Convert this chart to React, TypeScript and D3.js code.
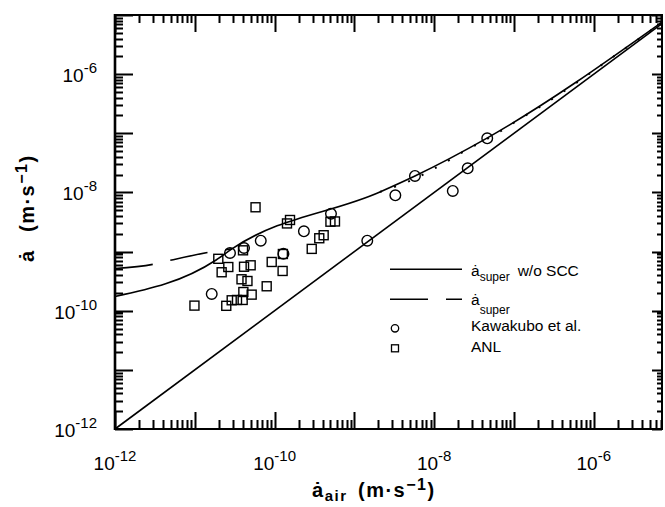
import React from "react";
import * as d3 from "d3";

// ---- data ----
const xDomain = [1e-12, 7.16e-6];
const yDomain = [1e-12, 1e-5];

const labelDecades = [1e-12, 1e-10, 1e-8, 1e-6];
const labelExponents = ["-12", "-10", "-8", "-6"];
const tickDecades = [-12, -11, -10, -9, -8, -7, -6, -5];
const tickMultipliers = [1, 2, 3, 4, 5, 6, 7, 8, 9];

// a_super w/o SCC (solid)
const noSccX = [1e-12, 1.85e-11, 2.92e-11, 2.09e-9, 5.74e-9, 4.59e-8, 7.16e-6];
const noSccY = [1.74e-10, 7.2e-10, 1.11e-9, 1.02e-8, 1.9e-8, 8.3e-8, 7.6e-6];

// a_super (long dash at low rates, merges with the solid curve, then dotted at high rates)
const superLowX = [1e-12, 3.02e-12, 5.14e-12, 1.55e-11, 2.92e-11];
const superLowY = [5.18e-10, 6.1e-10, 7.2e-10, 9.8e-10, 1.11e-9];
const superHighX = [2.09e-9, 4.7e-9, 1.15e-8, 2.3e-8, 6.12e-8, 1.3e-7, 2.35e-7, 6.1e-7, 1.29e-6, 7.16e-6];
const superHighY = [1.02e-8, 1.52e-8, 2.8e-8, 4.83e-8, 1.0e-7, 1.89e-7, 3.06e-7, 7.2e-7, 1.47e-6, 7.4e-6];

// a = a_air reference line
const diagX = [1e-12, 7.16e-6];
const diagY = [1e-12, 7.16e-6];

// Kawakubo et al. (circles)
const kawakuboX = [1.63e-11, 2.76e-11, 4.14e-11, 6.71e-11, 1.29e-10, 2.33e-10, 5.09e-10, 1.45e-9, 3.26e-9, 5.74e-9, 1.71e-8, 2.63e-8, 4.62e-8];
const kawakuboY = [1.92e-10, 9.46e-10, 1.15e-9, 1.53e-9, 9.16e-10, 2.2e-9, 4.37e-9, 1.53e-9, 8.95e-9, 1.9e-8, 1.06e-8, 2.56e-8, 8.22e-8];

// ANL (squares)
const anlX = [9.9e-12, 1.97e-11, 2.17e-11, 2.63e-11, 2.48e-11, 2.9e-11, 3.38e-11, 3.98e-11, 4.06e-11, 5.16e-11, 3.85e-11, 4.57e-11, 4.14e-11, 5.01e-11, 4.02e-11, 5.77e-11, 7.96e-11, 9.2e-11, 1.26e-10, 1.27e-10, 1.43e-10, 1.56e-10, 2.92e-10, 3.63e-10, 4.12e-10, 5.01e-10, 5.71e-10];
const anlY = [1.22e-10, 7.55e-10, 4.47e-10, 5.48e-10, 1.21e-10, 1.5e-10, 1.52e-10, 1.52e-10, 2.07e-10, 1.87e-10, 3.4e-10, 3.18e-10, 5.54e-10, 5.86e-10, 1.05e-9, 5.61e-9, 2.59e-10, 6.67e-10, 4.7e-10, 9.1e-10, 2.99e-9, 3.42e-9, 1.11e-9, 1.68e-9, 1.89e-9, 3.2e-9, 3.23e-9];

const W = 665;
const H = 507;
const L = 115, R = 662, T = 15, B = 429;
const FONT = "'Liberation Sans', Arial, Helvetica, sans-serif";

export default function App() {
  const x = d3.scaleLog().domain(xDomain).range([L, R]);
  const y = d3.scaleLog().domain(yDomain).range([B, T]);

  const curve = (xs: number[], ys: number[]) =>
    d3
      .line<number>()
      .x((_, i) => x(xs[i]))
      .y((_, i) => y(ys[i]))
      .curve(d3.curveMonotoneX)(xs) as string;

  const ticks: { v: number; major: boolean }[] = [];
  tickDecades.forEach((e) =>
    tickMultipliers.forEach((k) => ticks.push({ v: k * Math.pow(10, e), major: k === 1 }))
  );
  const xt = ticks.filter((t) => t.v >= xDomain[0] * 0.999 && t.v <= xDomain[1] * 1.001);
  const yt = ticks.filter((t) => t.v >= yDomain[0] * 0.999 && t.v <= yDomain[1] * 1.001);

  let tickPath = "";
  xt.forEach((t) => {
    const px = Math.round(x(t.v)) + 0.5;
    tickPath += `M${px},${B}V${B - (t.major ? 17 : 9)}`;
    tickPath += `M${px},${T}V${T + (t.major ? 17 : 8)}`;
  });
  yt.forEach((t) => {
    const py = Math.round(y(t.v)) + 0.5;
    tickPath += `M${L},${py}H${L + (t.major ? 18 : 8)}`;
    tickPath += `M${R},${py}H${R - (t.major ? 10 : 5)}`;
  });

  return (
    <svg width={W} height={H} style={{ position: "fixed", left: 0, top: 0 }}>
      <rect x={0} y={0} width={W} height={H} fill="#fff" />

      {/* frame */}
      <rect x={L} y={T} width={R - L} height={B - T} fill="none" stroke="#000" strokeWidth={2} />
      <line x1={L} x2={L} y1={T - 1} y2={B + 1} stroke="#000" strokeWidth={2.6} />

      {/* lines */}
      <path d={curve(diagX, diagY)} fill="none" stroke="#000" strokeWidth={1.6} />
      <path d={curve(noSccX, noSccY)} fill="none" stroke="#000" strokeWidth={1.6} />
      <path d={curve(superLowX, superLowY)} fill="none" stroke="#000" strokeWidth={1.6} strokeDasharray="38,18" />
      <path d={curve(superHighX, superHighY)} fill="none" stroke="#000" strokeWidth={2} strokeDasharray="2,13" />

      {/* markers */}
      {anlX.map((v, i) => (
        <rect key={"a" + i} x={x(v) - 4.5} y={y(anlY[i]) - 4.5} width={9} height={9} fill="none" stroke="#000" strokeWidth={1.4} />
      ))}
      {kawakuboX.map((v, i) => (
        <circle key={"k" + i} cx={x(v)} cy={y(kawakuboY[i])} r={5.3} fill="none" stroke="#000" strokeWidth={1.4} />
      ))}

      {/* tick labels */}
      <g fontFamily={FONT} fill="#000">
        {labelDecades.map((v, i) => (
          <text key={"xl" + i} x={x(v)} y={470} textAnchor="middle" fontSize={19}>
            10<tspan fontSize={15} dy={-9}>{labelExponents[i]}</tspan>
          </text>
        ))}
        {labelDecades.map((v, i) => (
          <text key={"yl" + i} x={97} y={y(v) + 8} textAnchor="end" fontSize={19}>
            10<tspan fontSize={15} dy={-9}>{labelExponents[i]}</tspan>
          </text>
        ))}

        {/* axis titles */}
        <text x={312} y={497} fontSize={20} fontWeight="bold" letterSpacing={1.5}>
          ȧ<tspan fontSize={15} dy={4}>air</tspan>
          <tspan dy={-4} x={358}>(m·s</tspan>
          <tspan fontSize={16} dy={-7}>−1</tspan>
          <tspan dy={7}>)</tspan>
        </text>
        <text transform="translate(34,262) rotate(-90)" fontSize={20} fontWeight="bold" letterSpacing={1.5}>
          ȧ<tspan x={30}>(m·s</tspan>
          <tspan fontSize={16} dy={-7}>−1</tspan>
          <tspan dy={7}>)</tspan>
        </text>

        {/* legend */}
        <text x={471} y={276} fontSize={15.5}>
          ȧ<tspan fontSize={12} dy={5}>super</tspan>
          <tspan dy={-5} dx={8}>w/o SCC</tspan>
        </text>
        <text x={471} y={305} fontSize={15.5}>
          ȧ<tspan fontSize={12} dy={9}>super</tspan>
        </text>
        <text x={471} y={331} fontSize={15.5}>Kawakubo et al.</text>
        <text x={471} y={352} fontSize={15.5}>ANL</text>
      </g>
      <line x1={390} x2={462} y1={269.3} y2={269.3} stroke="#000" strokeWidth={1.6} />
      <line x1={390} x2={462} y1={299.3} y2={299.3} stroke="#000" strokeWidth={1.6} strokeDasharray="38,18" />
      <circle cx={395} cy={328.3} r={3.7} fill="none" stroke="#000" strokeWidth={1.3} />
      <rect x={391.5} y={344.8} width={7} height={7} fill="none" stroke="#000" strokeWidth={1.3} />

      {/* ticks on top */}
      <path d={tickPath} fill="none" stroke="#000" strokeWidth={2} />
    </svg>
  );
}
